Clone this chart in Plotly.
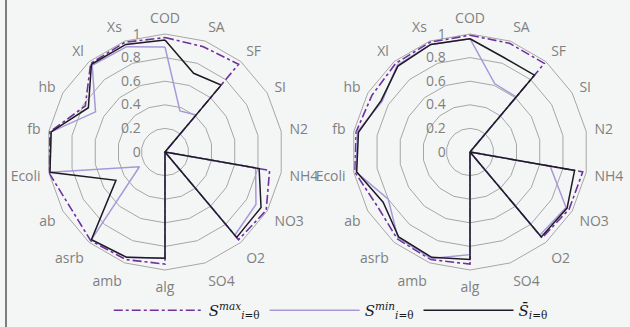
import plotly.graph_objects as go

categories = ["COD", "SA", "SF", "SI", "N2", "NH4", "NO3", "O2", "SO4", "alg",
              "amb", "asrb", "ab", "Ecoli", "fb", "hb", "Xl", "Xs"]

# Left chart
left_max = [0.97, 0.95, 0.97, 0, 0, 0.90, 0.99, 0.97, 0, 0.95, 0.97, 0.98, 0.93, 1.0, 0.99, 0.78, 0.98, 0.99]
left_min = [0.89, 0.37, 0.41, 0, 0, 0.78, 0.89, 0.92, 0, 0.90, 0.95, 0.97, 0.25, 0.99, 0.98, 0.68, 0.96, 0.95]
left_mean = [0.95, 0.71, 0.74, 0, 0, 0.81, 0.94, 0.945, 0, 0.90, 0.95, 0.97, 0.48, 0.99, 0.98, 0.75, 0.97, 0.97]

# Right chart
right_max = [0.99, 0.98, 0.98, 0, 0, 0.97, 0.97, 0.95, 0, 0.95, 0.97, 0.96, 0.91, 0.99, 0.98, 0.96, 0.98, 0.99]
right_min = [0.96, 0.615, 0.61, 0, 0, 0.69, 0.94, 0.92, 0, 0.87, 0.96, 0.95, 0.80, 0.98, 0.97, 0.86, 0.96, 0.97]
right_mean = [0.96, 0.85, 0.85, 0, 0, 0.90, 0.95, 0.94, 0, 0.91, 0.95, 0.94, 0.85, 0.975, 0.96, 0.87, 0.95, 0.97]

radial_ticks = [0, 0.2, 0.4, 0.6, 0.8, 1]
radial_ticktext = ["0", "0.2", "0.4", "0.6", "0.8", "1"]

series_names = [
    "<i>S</i><sup><i>max</i></sup><sub><i>i</i>=θ</sub>",
    "<i>S</i><sup><i>min</i></sup><sub><i>i</i>=θ</sub>",
    "<i>S̄</i><sub><i>i</i>=θ</sub>",
]
colors = ["#7030a0", "#a898d8", "#1e1a24"]
dashes = ["dashdot", "solid", "solid"]
widths = [1.6, 1.5, 1.5]

def closed(v):
    return list(v) + [v[0]]

cats_closed = categories + [categories[0]]

fig = go.Figure()
for sub, data in (("polar", (left_max, left_min, left_mean)), ("polar2", (right_max, right_min, right_mean))):
    for i, vals in enumerate(data):
        fig.add_trace(go.Scatterpolar(
            r=closed(vals), theta=cats_closed, mode="lines",
            line=dict(color=colors[i], dash=dashes[i], width=widths[i]),
            name=series_names[i], subplot=sub, showlegend=(sub == "polar"),
        ))

W, H = 630, 327
R = 118
def dom(cx, cy):
    return dict(x=[(cx - R) / W, (cx + R) / W], y=[(H - cy - R) / H, (H - cy + R) / H])

font_family = "Open Sans, Noto Sans, sans-serif"
label_color = "#808080"
padded_ticktext = [t + "\u00a0\u00a0\u00a0" for t in radial_ticktext]

def polar_layout(cx, cy):
    return dict(
        domain=dom(cx, cy),
        bgcolor="rgba(0,0,0,0)",
        gridshape="linear",
        radialaxis=dict(
            range=[0, 1], tickvals=radial_ticks, ticktext=padded_ticktext,
            angle=90, tickangle=90, side="counterclockwise",
            showline=False, ticks="outside", ticklen=8, tickcolor="rgba(0,0,0,0)",
            showgrid=True, gridcolor="#a6a6a6", gridwidth=1,
            tickfont=dict(family=font_family, size=14, color=label_color),
            layer="below traces",
        ),
        angularaxis=dict(
            direction="clockwise", rotation=90,
            showgrid=False, showline=True, linecolor="#a6a6a6", linewidth=1,
            ticks="outside", ticklen=5, tickcolor="rgba(0,0,0,0)",
            tickfont=dict(family=font_family, size=14, color=label_color),
            layer="below traces",
        ),
    )

fig.update_layout(
    width=W, height=H,
    margin=dict(l=0, r=0, t=0, b=0),
    paper_bgcolor="#f4f6f6",
    plot_bgcolor="#f4f6f6",
    polar=polar_layout(165, 152),
    polar2=polar_layout(470, 152),
    showlegend=True,
    legend=dict(
        orientation="h", x=0.525, xanchor="center", y=0.0, yanchor="bottom",
        itemwidth=90, bgcolor="rgba(0,0,0,0)",
        font=dict(family="DejaVu Serif, serif", size=15, color="#1a1a1a"),
        traceorder="normal",
    ),
    shapes=[dict(type="line", xref="paper", yref="paper", x0=6 / W, x1=6 / W, y0=0, y1=1,
                 line=dict(color="#555555", width=1.5))],
)

fig.write_html(
    "out.html",
    config={"displayModeBar": False},
    post_script="document.body.style.margin='0';document.body.style.background='#f4f6f6';",
)
